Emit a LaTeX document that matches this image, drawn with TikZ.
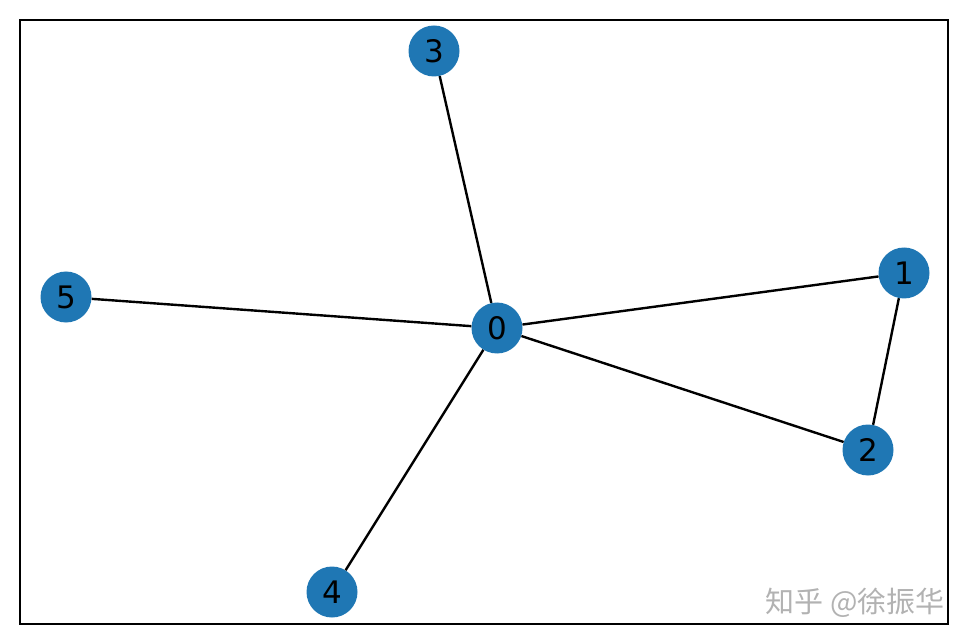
\documentclass[tikz,border=0pt]{standalone}
\usepackage{fontspec}
\setmainfont{DejaVu Sans}
\newfontfamily\cjkfont{Noto Sans CJK SC}
\definecolor{nodeblue}{HTML}{1F77B4}
\begin{document}
\begin{tikzpicture}[x=1pt, y=-1pt,
    vertex/.style={circle, fill=nodeblue, minimum size=51pt, inner sep=0pt, font=\fontsize{31}{31}\selectfont},
    edge/.style={draw, line width=2.4pt}]
    \useasboundingbox (0,0) rectangle (969,644);
    \draw [line width=2.4pt] (20,20) rectangle (948,624);

    \node [vertex] (n0) at (497,328) {0};
    \node [vertex] (n1) at (904,273) {1};
    \node [vertex] (n2) at (868,450) {2};
    \node [vertex] (n3) at (434,51) {3};
    \node [vertex] (n4) at (332,592) {4};
    \node [vertex] (n5) at (66,297) {5};

    \path [edge] (n0) -- (n1);
    \path [edge] (n0) -- (n2);
    \path [edge] (n1) -- (n2);
    \path [edge] (n0) -- (n3);
    \path [edge] (n0) -- (n4);
    \path [edge] (n0) -- (n5);

    % watermark
    \node [text=black!30, font=\cjkfont\fontsize{29}{29}\selectfont] (mark) at (855,603) {知乎 @徐振华};
\end{tikzpicture}
\end{document}
